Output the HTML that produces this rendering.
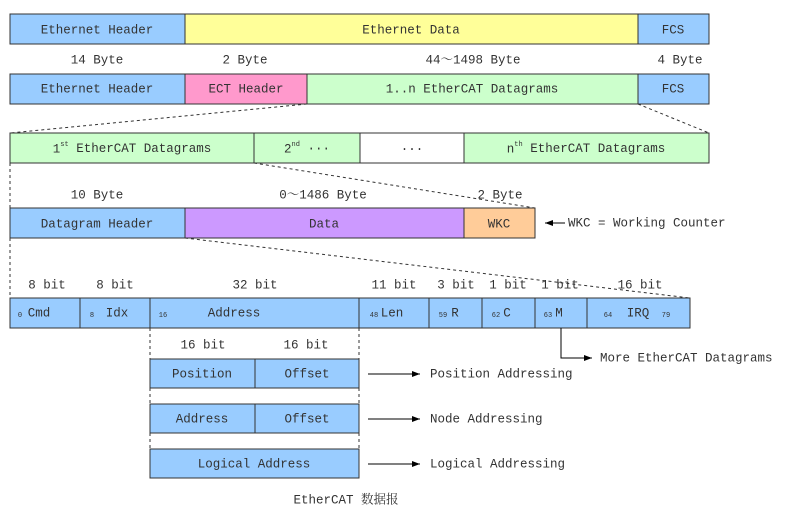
<!DOCTYPE html>
<html><head><meta charset="utf-8"><style>
body{margin:0;background:#fff}
svg text{font-family:"Liberation Mono","Noto Serif CJK SC",monospace;font-size:12.5px;fill:#333;dominant-baseline:middle;text-anchor:middle}
.s{font-size:7px}
</style></head><body>
<svg width="788" height="512" viewBox="0 0 788 512" xmlns="http://www.w3.org/2000/svg">
<defs><marker id="a" markerWidth="8" markerHeight="6" refX="8" refY="3" orient="auto"><path d="M0,0L8,3L0,6z" fill="#000"/></marker></defs>
<g stroke="#333" stroke-width="1">
<rect x="10" y="14" width="175" height="30" fill="#99ccff"/>
<rect x="185" y="14" width="453" height="30" fill="#ffff99"/>
<rect x="638" y="14" width="71" height="30" fill="#99ccff"/>
<rect x="10" y="74" width="175" height="30" fill="#99ccff"/>
<rect x="185" y="74" width="122" height="30" fill="#ff99cc"/>
<rect x="307" y="74" width="331" height="30" fill="#ccffcc"/>
<rect x="638" y="74" width="71" height="30" fill="#99ccff"/>
<rect x="10" y="133" width="244" height="30" fill="#ccffcc"/>
<rect x="254" y="133" width="106" height="30" fill="#ccffcc"/>
<rect x="360" y="133" width="104" height="30" fill="#fff"/>
<rect x="464" y="133" width="245" height="30" fill="#ccffcc"/>
<rect x="10" y="208" width="175" height="30" fill="#99ccff"/>
<rect x="185" y="208" width="279" height="30" fill="#cc99ff"/>
<rect x="464" y="208" width="71" height="30" fill="#ffcc99"/>
<rect x="10" y="298" width="70" height="30" fill="#99ccff"/>
<rect x="80" y="298" width="70" height="30" fill="#99ccff"/>
<rect x="150" y="298" width="209" height="30" fill="#99ccff"/>
<rect x="359" y="298" width="70" height="30" fill="#99ccff"/>
<rect x="429" y="298" width="53" height="30" fill="#99ccff"/>
<rect x="482" y="298" width="53" height="30" fill="#99ccff"/>
<rect x="535" y="298" width="52" height="30" fill="#99ccff"/>
<rect x="587" y="298" width="103" height="30" fill="#99ccff"/>
<rect x="150" y="359" width="105" height="29" fill="#99ccff"/>
<rect x="255" y="359" width="104" height="29" fill="#99ccff"/>
<rect x="150" y="404" width="105" height="29" fill="#99ccff"/>
<rect x="255" y="404" width="104" height="29" fill="#99ccff"/>
<rect x="150" y="449" width="209" height="29" fill="#99ccff"/>
</g>
<g stroke="#333" stroke-dasharray="3,3" fill="none">
<path d="M307,104L10,133M638,104L709,133M254,163L535,208M10,163V208M185,238L690,298M10,238V298M150,328V359M359,328V359M150,388V404M359,388V404M150,433V449M359,433V449"/>
</g>
<g stroke="#000" fill="none">
<path d="M561,328V358H592" marker-end="url(#a)"/>
<path d="M368,374H420" marker-end="url(#a)"/>
<path d="M368,419H420" marker-end="url(#a)"/>
<path d="M368,464H420" marker-end="url(#a)"/>
<path d="M565,223H545" marker-end="url(#a)"/>
</g>
<text x="97" y="30">Ethernet Header</text>
<text x="411" y="30">Ethernet Data</text>
<text x="673" y="30">FCS</text>
<text x="97" y="60">14 Byte</text>
<text x="245" y="60">2 Byte</text>
<text x="473" y="60">44～1498 Byte</text>
<text x="680" y="60">4 Byte</text>
<text x="97" y="89">Ethernet Header</text>
<text x="246" y="89">ECT Header</text>
<text x="472" y="89">1..n EtherCAT Datagrams</text>
<text x="673" y="89">FCS</text>
<text x="132" y="149">1<tspan class="s" dy="-5">st</tspan><tspan dy="5"> EtherCAT Datagrams</tspan></text>
<text x="307" y="149">2<tspan class="s" dy="-5">nd</tspan><tspan dy="5"> ···</tspan></text>
<text x="412" y="149">···</text>
<text x="586" y="149">n<tspan class="s" dy="-5">th</tspan><tspan dy="5"> EtherCAT Datagrams</tspan></text>
<text x="97" y="195">10 Byte</text>
<text x="323" y="195">0～1486 Byte</text>
<text x="500" y="195">2 Byte</text>
<text x="97" y="224">Datagram Header</text>
<text x="324" y="224">Data</text>
<text x="499" y="224">WKC</text>
<text x="568" y="223" style="text-anchor:start">WKC = Working Counter</text>
<text x="47" y="285">8 bit</text>
<text x="115" y="285">8 bit</text>
<text x="255" y="285">32 bit</text>
<text x="394" y="285">11 bit</text>
<text x="456" y="285">3 bit</text>
<text x="508" y="285">1 bit</text>
<text x="560" y="285">1 bit</text>
<text x="640" y="285">16 bit</text>
<text x="20" y="315" class="s">0</text><text x="39" y="313">Cmd</text>
<text x="92" y="315" class="s">8</text><text x="117" y="313">Idx</text>
<text x="163" y="315" class="s">16</text><text x="234" y="313">Address</text>
<text x="374" y="315" class="s">48</text><text x="392" y="313">Len</text>
<text x="443" y="315" class="s">59</text><text x="455" y="313">R</text>
<text x="496" y="315" class="s">62</text><text x="507" y="313">C</text>
<text x="548" y="315" class="s">63</text><text x="559" y="313">M</text>
<text x="608" y="315" class="s">64</text><text x="638" y="313">IRQ</text><text x="666" y="315" class="s">79</text>
<text x="600" y="358" style="text-anchor:start">More EtherCAT Datagrams</text>
<text x="203" y="345">16 bit</text>
<text x="306" y="345">16 bit</text>
<text x="202" y="374">Position</text>
<text x="307" y="374">Offset</text>
<text x="430" y="374" style="text-anchor:start">Position Addressing</text>
<text x="202" y="419">Address</text>
<text x="307" y="419">Offset</text>
<text x="430" y="419" style="text-anchor:start">Node Addressing</text>
<text x="254" y="464">Logical Address</text>
<text x="430" y="464" style="text-anchor:start">Logical Addressing</text>
<text x="346" y="500">EtherCAT 数据报</text>
</svg>
</body></html>
